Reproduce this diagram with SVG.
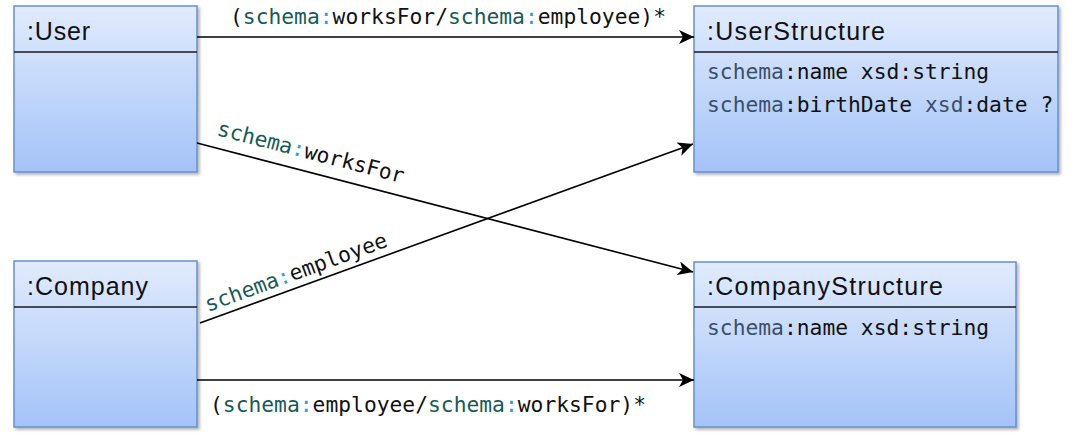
<svg xmlns="http://www.w3.org/2000/svg" width="1072" height="438" viewBox="0 0 1072 438">
<style>
.box{fill:url(#g);stroke:#6590d0;stroke-width:1.5;filter:url(#sh)}
.sep{stroke:#1a1a1a;stroke-width:1.6}
.title{font-family:"Liberation Sans",Arial,sans-serif;font-size:25px;fill:#111}
.mono{font-family:"DejaVu Sans Mono",monospace;font-size:21.3px;fill:#111}
.sa{fill:#3a4f6a}
.st{fill:#175a56}
.sc{fill:#2aa0d8}
.conn{stroke:#000;stroke-width:1.6;fill:none;marker-end:url(#ah)}
</style>
<defs>
<linearGradient id="g" x1="0" y1="0" x2="0" y2="1">
<stop offset="0" stop-color="#e1ebfd"/>
<stop offset="1" stop-color="#a4c3f8"/>
</linearGradient>
<filter id="sh" x="-5%" y="-5%" width="115%" height="115%">
<feDropShadow dx="2" dy="2" stdDeviation="1.5" flood-color="#000" flood-opacity="0.3"/>
</filter>
<marker id="ah" markerUnits="userSpaceOnUse" markerWidth="16" markerHeight="14" refX="15" refY="7" orient="auto">
<path d="M0,0 L15,7 L0,14 L4,7 Z" fill="#000"/>
</marker>
</defs>
<g id="User">
<rect class="box" x="14" y="6" width="183" height="166"/>
<line class="sep" x1="14" y1="52" x2="197" y2="52"/>
<text class="title" x="27" y="40" textLength="63">:User</text>
</g>
<g id="Company">
<rect class="box" x="14" y="261" width="183" height="166"/>
<line class="sep" x1="14" y1="307" x2="197" y2="307"/>
<text class="title" x="27" y="295" textLength="121">:Company</text>
</g>
<g id="UserStructure">
<rect class="box" x="694" y="6" width="364" height="166"/>
<line class="sep" x1="694" y1="52" x2="1058" y2="52"/>
<text class="title" x="707" y="40" textLength="178">:UserStructure</text>
<text class="mono" x="707" y="79"><tspan class="sa">schema</tspan>:name xsd:string</text>
<text class="mono" x="707" y="112"><tspan class="sa">schema</tspan>:birthDate <tspan class="sa">xsd</tspan>:date ?</text>
</g>
<g id="CompanyStructure">
<rect class="box" x="694" y="262" width="322" height="165"/>
<line class="sep" x1="694" y1="307" x2="1016" y2="307"/>
<text class="title" x="707" y="295" textLength="236">:CompanyStructure</text>
<text class="mono" x="707" y="335"><tspan class="sa">schema</tspan>:name xsd:string</text>
</g>
<g id="connectors">
<line class="conn" x1="197" y1="37" x2="694" y2="37"/>
<line class="conn" x1="197" y1="143" x2="693" y2="272"/>
<line class="conn" x1="200" y1="323" x2="693" y2="144"/>
<line class="conn" x1="197" y1="380" x2="694" y2="380"/>
<text class="mono" x="230" y="24">(<tspan class="st">schema</tspan><tspan class="sc">:</tspan>worksFor/<tspan class="st">schema</tspan><tspan class="sc">:</tspan>employee)*</text>
<text class="mono" x="210" y="412">(<tspan class="st">schema</tspan><tspan class="sc">:</tspan>employee/<tspan class="st">schema</tspan><tspan class="sc">:</tspan>worksFor)*</text>
<text class="mono" transform="translate(216,135) rotate(14.5)"><tspan class="st">schema</tspan><tspan class="sc">:</tspan>worksFor</text>
<text class="mono" transform="translate(208,312) rotate(-20)"><tspan class="st">schema</tspan><tspan class="sc">:</tspan>employee</text>
</g>
</svg>
